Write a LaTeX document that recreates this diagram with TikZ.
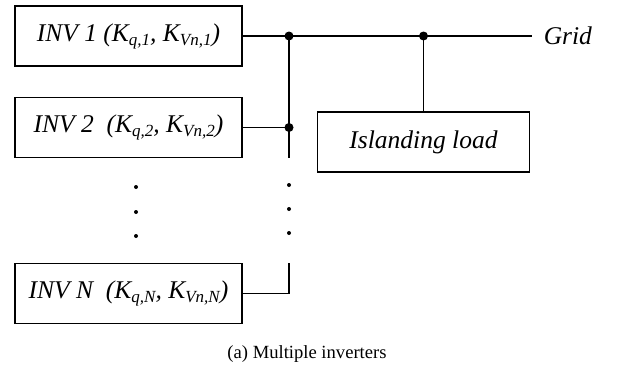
\documentclass[tikz,border=0pt]{standalone}
\usepackage{fontspec}
\setmainfont{Liberation Serif}
\newcommand{\sbs}[1]{\raisebox{-4pt}{\fontsize{17}{17}\selectfont #1}}

\begin{document}
\begin{tikzpicture}[x=1pt,y=-1pt,line width=1.6pt,
  invbox/.style={draw,minimum width=227pt,minimum height=60pt,inner sep=0pt,
    font=\fontsize{25.5}{29}\selectfont\itshape},
  junc/.style={circle,fill,inner sep=0pt,minimum size=9pt}]
\useasboundingbox (0,0) rectangle (617,372);
	\node[invbox] (inv1) at (128.5,36) {INV 1 (K\sbs{q,1}, K\sbs{Vn,1})};
	\node[invbox] (inv2) at (128.5,127.5) {INV 2\ \ (K\sbs{q,2}, K\sbs{Vn,2})};
	\node[invbox] (invn) at (128.5,293.5) {INV N\ \ (K\sbs{q,N}, K\sbs{Vn,N})};
	\node[invbox,minimum width=212pt] (load) at (423.5,142) {Islanding load};
	\node[anchor=west,inner sep=0pt,font=\fontsize{25.5}{29}\selectfont\itshape] (grid) at (543,36) {Grid};
	\node[font=\fontsize{18.6}{22}\selectfont] (cap) at (307,354) {(a) Multiple inverters};
	\coordinate (b1) at (289,36);
	\coordinate (b2) at (289,127.5);
	\coordinate (bend) at (289,158);
	\coordinate (bn) at (289,263);
	\coordinate (j) at (423.5,36);
	\coordinate (gend) at (532,36);
	\draw (inv1.east)--(gend);
	\draw (inv2.east)--(b2);
	\draw (b1)--(bend);
	\draw (invn.east)-|(bn);
	\draw (j)--(load.north);
	\node[junc] at (b1) {};
	\node[junc] at (b2) {};
	\node[junc] at (j) {};
	\foreach \y in {187,212,236} \fill (136,\y) circle (2);
	\foreach \y in {185,209,233} \fill (289,\y) circle (2);
\end{tikzpicture}
\end{document}
